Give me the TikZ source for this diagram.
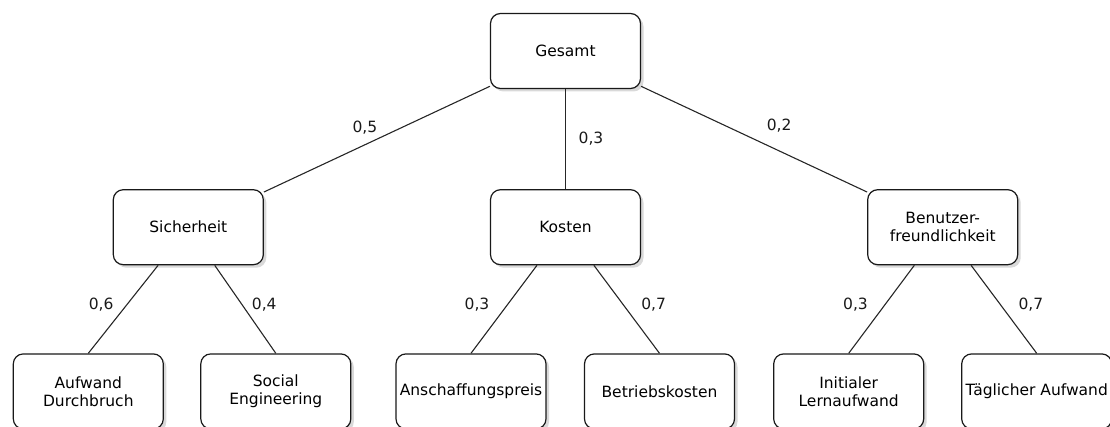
\documentclass[tikz,border=0pt]{standalone}
\usepackage{fontspec}
\setmainfont{DejaVu Sans}
\usetikzlibrary{positioning,shadows}

\begin{document}
\begin{tikzpicture}[
    x=1pt, y=-1pt,
    font=\fontsize{15.5}{18}\selectfont,
    crit/.style={draw=black!90, line width=1.2pt, rounded corners=10pt, fill=white,
      align=center, minimum width=150pt, minimum height=75pt, inner sep=2pt,
      drop shadow={shadow xshift=3pt, shadow yshift=-3pt, opacity=0.3}},
    link/.style={draw=black!85, line width=1.1pt},
    weight/.style={inner sep=0pt, text=black!90}
  ]
    \useasboundingbox (0,0) rectangle (1110,427);

    \node[crit] at (565.5,51) (ges) {Gesamt};
    \node[crit, below=100pt of ges] (kost) {Kosten};
    \node[crit, left=226pt of kost] (sich) {Sicherheit};
    \node[crit, right=226pt of kost] (benu) {Benutzer-\\freundlichkeit};

    \node[crit, below=88pt of sich, xshift=-100pt] (aufw) {Aufwand\\Durchbruch};
    \node[crit, below=88pt of sich, xshift=87.5pt] (soc) {Social\\Engineering};
    \node[crit, below=88pt of kost, xshift=-94.5pt] (ansch) {Anschaffungspreis};
    \node[crit, below=88pt of kost, xshift=94pt] (betr) {Betriebskosten};
    \node[crit, below=88pt of benu, xshift=-94pt] (lern) {Initialer\\Lernaufwand};
    \node[crit, below=88pt of benu, xshift=94pt] (tagl) {Täglicher Aufwand};

    \draw[link] (ges) -- node[weight, xshift=-12pt, yshift=12pt] (wsich) {0,5} (sich);
    \draw[link] (ges) -- node[weight, xshift=25.5pt] (wkost) {0,3} (kost);
    \draw[link] (ges) -- node[weight, xshift=25pt, yshift=13.5pt] (wbenu) {0,2} (benu);

    \draw[link] (sich) -- node[weight, xshift=-22pt, yshift=5pt] (waufw) {0,6} (aufw.north);
    \draw[link] (sich) -- node[weight, xshift=19pt, yshift=5pt] (wsoc) {0,4} (soc.north);
    \draw[link] (kost) -- node[weight, xshift=-27pt, yshift=5pt] (wansch) {0,3} (ansch.north);
    \draw[link] (kost) -- node[weight, xshift=27pt, yshift=5pt] (wbetr) {0,7} (betr.north);
    \draw[link] (benu) -- node[weight, xshift=-26pt, yshift=5pt] (wlern) {0,3} (lern.north);
    \draw[link] (benu) -- node[weight, xshift=27pt, yshift=5pt] (wtagl) {0,7} (tagl.north);
  \end{tikzpicture}
\end{document}
